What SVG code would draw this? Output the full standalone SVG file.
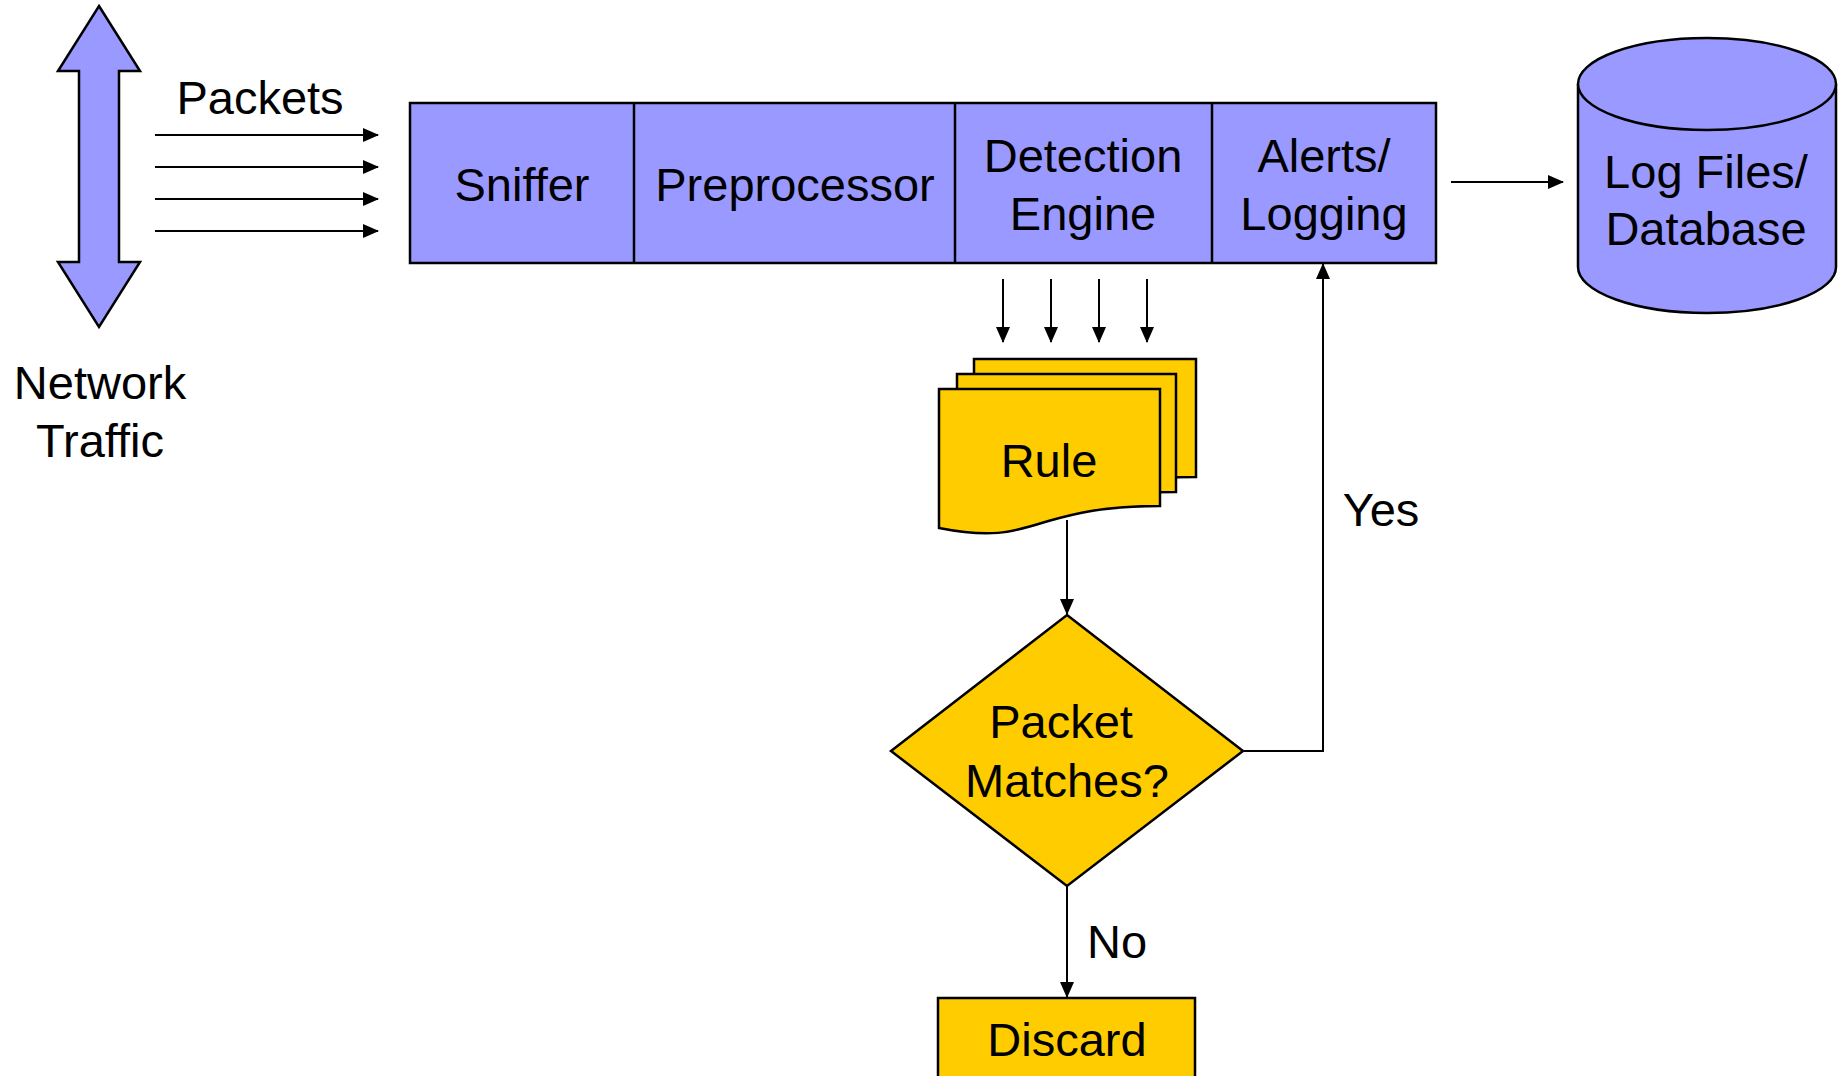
<svg xmlns="http://www.w3.org/2000/svg" width="1845" height="1076" viewBox="0 0 1845 1076">
<style>
text{font-family:"Liberation Sans",Arial,sans-serif;font-size:47px;fill:#000;text-anchor:middle}
.blue{fill:#9999FF;stroke:#000;stroke-width:2.5}
.yel{fill:#FFCC00;stroke:#000;stroke-width:2.5}
.con{fill:none;stroke:#000;stroke-width:2}
</style>
<defs>
<marker id="ah" markerWidth="16" markerHeight="14" refX="15" refY="7" orient="auto" markerUnits="userSpaceOnUse"><path d="M0,0 L16,7 L0,14 z" fill="#000"/></marker>
</defs>
<rect width="1845" height="1076" fill="#fff"/>
<g id="network-traffic">
<polygon class="blue" points="99,6 140,71 119,71 119,262 140,262 99,327 58,262 79,262 79,71 58,71"/>
<text x="100" y="399">Network</text>
<text x="100" y="457">Traffic</text>
</g>
<g id="pipeline">
<rect class="blue" x="410" y="103" width="1026" height="160"/>
<line x1="634" y1="103" x2="634" y2="263" stroke="#000" stroke-width="2.5"/>
<line x1="955" y1="103" x2="955" y2="263" stroke="#000" stroke-width="2.5"/>
<line x1="1212" y1="103" x2="1212" y2="263" stroke="#000" stroke-width="2.5"/>
</g>
<g id="sniffer"><text x="522" y="201">Sniffer</text></g>
<g id="preprocessor"><text x="795" y="201">Preprocessor</text></g>
<g id="detection-engine"><text x="1083" y="172">Detection</text><text x="1083" y="230">Engine</text></g>
<g id="alerts-logging"><text x="1324" y="172">Alerts/</text><text x="1324" y="230">Logging</text></g>
<g id="log-db">
<path class="blue" d="M1578,84 V267 A129,46 0 0 0 1836,267 V84"/>
<ellipse class="blue" cx="1707" cy="84" rx="129" ry="46"/>
<text x="1706" y="188">Log Files/</text>
<text x="1706" y="245">Database</text>
</g>
<g id="rules">
<path class="yel" d="M974,359 H1196 V477 C1136,477 1106,486 1081,493 C1046,504 1026,509 974,499 Z"/>
<path class="yel" d="M957,374 H1176 V492 C1116,492 1086,501 1061,508 C1026,519 1006,524 957,514 Z"/>
<path class="yel" d="M939,389 H1160 V506 C1100,506 1070,515 1045,522 C1010,533 990,538 939,528 Z"/>
<text x="1049" y="477">Rule</text>
</g>
<g id="decision">
<polygon class="yel" points="1067,615 1243,751 1067,886 891,751"/>
<text x="1061" y="738">Packet</text>
<text x="1067" y="797">Matches?</text>
</g>
<g id="discard">
<rect class="yel" x="938" y="998" width="257" height="100"/>
<text x="1067" y="1056">Discard</text>
</g>
<g id="connectors">
<line class="con" x1="155" y1="135" x2="378" y2="135" marker-end="url(#ah)"/>
<line class="con" x1="155" y1="167" x2="378" y2="167" marker-end="url(#ah)"/>
<line class="con" x1="155" y1="199" x2="378" y2="199" marker-end="url(#ah)"/>
<line class="con" x1="155" y1="231" x2="378" y2="231" marker-end="url(#ah)"/>
<line class="con" x1="1451" y1="182" x2="1563" y2="182" marker-end="url(#ah)"/>
<line class="con" x1="1003" y1="279" x2="1003" y2="342" marker-end="url(#ah)"/>
<line class="con" x1="1051" y1="279" x2="1051" y2="342" marker-end="url(#ah)"/>
<line class="con" x1="1099" y1="279" x2="1099" y2="342" marker-end="url(#ah)"/>
<line class="con" x1="1147" y1="279" x2="1147" y2="342" marker-end="url(#ah)"/>
<line class="con" x1="1067" y1="520" x2="1067" y2="614" marker-end="url(#ah)"/>
<polyline class="con" points="1243,751 1323,751 1323,264" marker-end="url(#ah)"/>
<line class="con" x1="1067" y1="886" x2="1067" y2="997" marker-end="url(#ah)"/>
<text x="260" y="114">Packets</text>
<text x="1381" y="526">Yes</text>
<text x="1117" y="958">No</text>
</g>
</svg>
